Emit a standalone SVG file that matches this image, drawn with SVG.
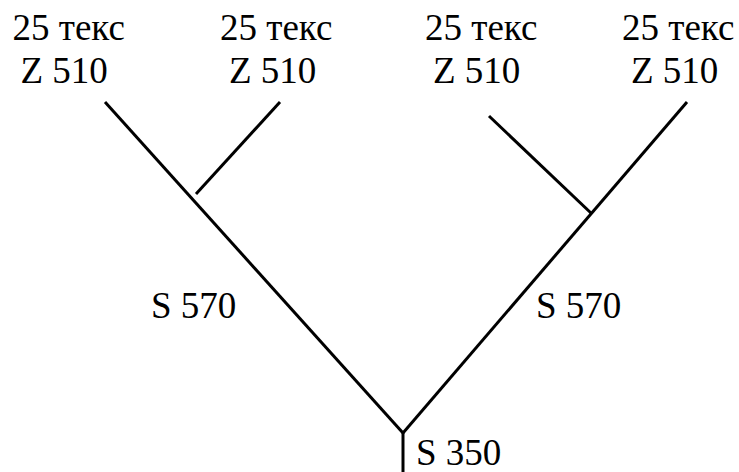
<svg xmlns="http://www.w3.org/2000/svg" width="739" height="472" viewBox="0 0 739 472">
<style>
.t{font-family:'Liberation Serif','Times New Roman',serif;font-size:37px;fill:#000}
.ln{stroke:#000;stroke-width:3;fill:none}
</style>
<rect width="739" height="472" fill="#fff"/>
<g id="connectors">
<line class="ln" x1="105" y1="102" x2="403" y2="433"/>
<line class="ln" x1="687" y1="102" x2="403" y2="433"/>
<line class="ln" x1="280" y1="102" x2="196" y2="194"/>
<line class="ln" x1="489" y1="116" x2="592" y2="214"/>
<line class="ln" x1="403" y1="433" x2="403" y2="472"/>
</g>
<g id="n1" class="t"><text x="12.5" y="40">25 текс</text><text x="20.5" y="83">Z 510</text></g>
<g id="n2" class="t"><text x="220" y="40">25 текс</text><text x="229" y="83">Z 510</text></g>
<g id="n3" class="t"><text x="425" y="40">25 текс</text><text x="433" y="83">Z 510</text></g>
<g id="n4" class="t"><text x="622" y="40">25 текс</text><text x="631" y="83">Z 510</text></g>
<g id="l1" class="t"><text x="151" y="318">S 570</text></g>
<g id="l2" class="t"><text x="536" y="318">S 570</text></g>
<g id="l3" class="t"><text x="416" y="465">S 350</text></g>
</svg>
